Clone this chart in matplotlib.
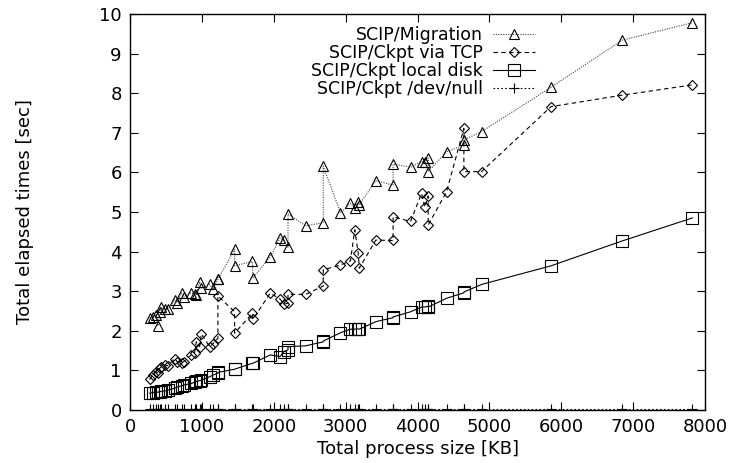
import matplotlib.pyplot as plt

plt.rcParams['font.family'] = ['DejaVu Sans']

# process sizes [KB], shared by every series
size_kb = [272, 313, 365, 387, 411, 435, 481, 526, 620, 657,
           717, 745, 852, 898, 922, 968, 992, 1107, 1153, 1223,
           1223, 1455, 1455, 1702, 1710, 1950, 2089, 2138, 2198, 2198,
           2444, 2688, 2688, 2928, 3067, 3127, 3175, 3190, 3419, 3660,
           3660, 3903, 4056, 4102, 4148, 4148, 4404, 4645, 4645, 4891,
           5857, 6850, 7825]

migration = [2.32, 2.36, 2.40, 2.12, 2.48, 2.59, 2.54, 2.54, 2.78, 2.71,
             2.96, 2.85, 2.96, 2.93, 2.90, 3.24, 3.07, 3.18, 3.05, 3.30,
             3.30, 4.06, 3.64, 3.75, 3.33, 3.87, 4.34, 4.28, 4.11, 4.95,
             4.65, 4.73, 6.16, 4.98, 5.22, 5.09, 5.24, 5.18, 5.79, 5.68,
             6.21, 6.13, 6.27, 6.27, 6.36, 6.02, 6.52, 6.69, 6.82, 7.03,
             8.15, 9.34, 9.78]

ckpt_tcp = [0.77, 0.88, 0.97, 0.93, 1.05, 1.09, 1.14, 1.12, 1.30, 1.22,
            1.18, 1.22, 1.39, 1.45, 1.72, 1.60, 1.92, 1.60, 1.67, 1.81,
            2.88, 2.48, 1.94, 2.44, 2.29, 2.95, 2.80, 2.67, 2.70, 2.92,
            2.92, 3.13, 3.54, 3.66, 3.77, 4.55, 3.96, 3.58, 4.29, 4.28,
            4.88, 4.76, 5.47, 5.12, 5.40, 4.67, 5.51, 7.11, 6.02, 6.02,
            7.66, 7.95, 8.21]

ckpt_disk = [0.42, 0.44, 0.45, 0.45, 0.46, 0.47, 0.48, 0.50, 0.55, 0.58,
             0.61, 0.63, 0.67, 0.70, 0.72, 0.74, 0.75, 0.84, 0.88, 0.93,
             0.95, 1.03, 1.03, 1.18, 1.18, 1.39, 1.35, 1.47, 1.52, 1.60,
             1.62, 1.72, 1.74, 1.95, 2.04, 2.04, 2.05, 2.04, 2.23, 2.33,
             2.35, 2.48, 2.60, 2.60, 2.62, 2.60, 2.82, 2.96, 2.98, 3.17,
             3.64, 4.27, 4.85]

ckpt_null = [0.02, 0.02, 0.02, 0.02, 0.02, 0.02, 0.02, 0.02, 0.02, 0.02,
             0.02, 0.02, 0.02, 0.02, 0.02, 0.02, 0.02, 0.02, 0.02, 0.02,
             0.02, 0.02, 0.02, 0.02, 0.02, 0.02, 0.02, 0.02, 0.02, 0.02,
             0.02, 0.02, 0.02, 0.02, 0.02, 0.02, 0.02, 0.02, 0.02, 0.02,
             0.02, 0.02, 0.02, 0.02, 0.02, 0.02, 0.02, 0.02, 0.02, 0.02,
             0.02, 0.02, 0.02]

fig = plt.figure(figsize=(7.33, 4.63), dpi=100)
ax = fig.add_axes([0.1774, 0.1145, 0.7844, 0.8553])

ax.plot(size_kb, migration, label='SCIP/Migration', color='#444444',
        linestyle=(0, (1, 1.2)), linewidth=0.8, marker='^', markersize=7.5,
        markerfacecolor='none', markeredgecolor='black', markeredgewidth=0.8)
ax.plot(size_kb, ckpt_tcp, label='SCIP/Ckpt via TCP', color='black',
        linestyle=(0, (4, 3)), linewidth=0.8, marker='D', markersize=5,
        markerfacecolor='none', markeredgewidth=0.8)
ax.plot(size_kb, ckpt_disk, label='SCIP/Ckpt local disk', color='black',
        linestyle='-', linewidth=0.8, marker='s', markersize=8,
        markerfacecolor='none', markeredgewidth=0.8)
ax.plot(size_kb, ckpt_null, label='SCIP/Ckpt /dev/null', color='black',
        linestyle=(0, (1.5, 2)), linewidth=0.8, marker='+', markersize=7,
        markeredgewidth=0.8)

ax.set_xlim(0, 8000)
ax.set_ylim(0, 10)
ax.set_xticks(range(0, 8001, 1000))
ax.set_yticks(range(0, 11))
ax.tick_params(direction='in', top=True, right=True, length=6, width=0.8,
               labelsize=13, pad=6)
for s in ax.spines.values():
    s.set_linewidth(1.0)

ax.set_xlabel('Total process size [KB]', fontsize=13, labelpad=3)
ax.set_ylabel('Total elapsed times [sec]', fontsize=13, labelpad=47)

ax.legend(loc='upper right', bbox_to_anchor=(0.704, 0.97), markerfirst=False,
          frameon=False, fontsize=12.5, handlelength=2.4, handletextpad=0.6,
          labelspacing=0.0, borderpad=0, borderaxespad=0)

fig.savefig('out.png', dpi=100)
